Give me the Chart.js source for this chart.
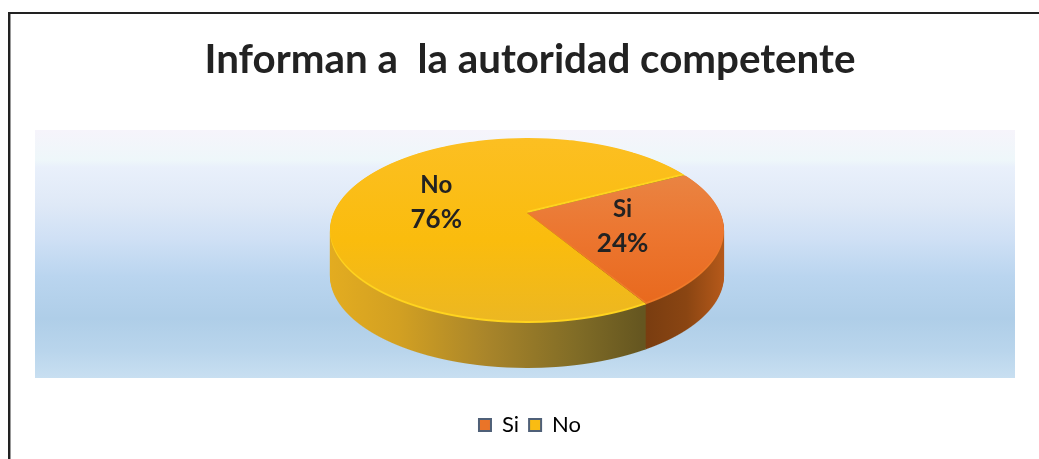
<!DOCTYPE html>
<html><head><meta charset="utf-8">
<style>html,body{margin:0;padding:0;background:#fff}canvas{display:block}</style>
<script src="https://cdn.jsdelivr.net/npm/chart.js@4"></script>
</head><body><canvas id="c" width="1039" height="459"></canvas>
<script>
const categories = ['Si', 'No'];
const seriesValues = [24, 76];
const percentLabels = ['24%', '76%'];
const sliceColors = ['#ea7428', '#fabc12'];
const titleText = 'Informan a  la autoridad competente';

// Oblique projection of the pie (circle plane to screen)
const APEX_X = 527, APEX_Y = 213, TOP = 138, BOTTOM = 323, HALF_W = 197, DEPTH = 45;
const far = APEX_Y - TOP, near = BOTTOM - APEX_Y;
const pc = (far - near) / (far + near);
const pa = far * (1 - pc);
const pk = HALF_W * Math.sqrt(1 - pc * pc);
const W = 1039, H = 459;

function project(u, v) {
  const w = 1 + pc * v;
  return { x: APEX_X + pk * u / w, y: APEX_Y + pa * v / w };
}
function rowPaint(ctx, el, dy) {
  const R = el.outerRadius;
  for (let y = TOP - 1; y <= BOTTOM; y++) {
    const Y = y + 0.5 - APEX_Y;
    const v = Y / (pa - pc * Y);
    if (Math.abs(v) > 1.02) continue;
    const w = 1 + pc * v;
    const sx = pk / (w * R), sy = pa / (w * w * R);
    ctx.save();
    ctx.beginPath();
    ctx.rect(0, y + dy, W, 1);
    ctx.clip();
    ctx.setTransform(sx, 0, 0, sy, APEX_X - el.x * sx, y + 0.5 + dy - (el.y + v * R) * sy);
    el.draw(ctx);
    ctx.restore();
  }
}
function layer() {
  const c = document.createElement('canvas');
  c.width = W; c.height = H;
  return c;
}
function grad(ctx, x0, y0, x1, y1, stops) {
  const g = ctx.createLinearGradient(x0, y0, x1, y1);
  stops.forEach(s => g.addColorStop(s[0], s[1]));
  return g;
}
const sideStops = [
  [[0, '#b5591a'], [0.45, '#8a4512'], [1, '#783c10']],
  [[0, '#e3ac20'], [0.22, '#d2a022'], [0.5, '#a9852a'], [0.8, '#7f6b26'], [1, '#655620']]
];
const sideRange = [[723, 642], [330, 642]];
const faceStops = [
  [[0, '#e98544'], [0.45, '#ec7630'], [1, '#e8681c']],
  [[0, '#fcbf22'], [0.55, '#fabc0d'], [1, '#ecb722']]
];
const faceRange = [[170, 310], [138, 323]];
const rimColors = ['#f07a28', '#ffd41e'];

const pieScene = {
  id: 'pieScene',
  beforeDraw(chart) {
    const ctx = chart.ctx;
    ctx.save();
    ctx.fillStyle = '#fff';
    ctx.fillRect(0, 0, W, H);
    ctx.fillStyle = grad(ctx, 0, 130, 0, 378, [
      [0, '#f6f4fb'], [0.12, '#eef7fa'], [0.15, '#e9f0fb'], [0.3, '#dfe9f7'],
      [0.44, '#cfe0f5'], [0.59, '#bad5ef'], [0.76, '#afcee8'], [0.89, '#b9d5ec'], [1, '#c8dff1']]);
    ctx.fillRect(35, 130, 980, 248);
    ctx.fillStyle = '#222';
    ctx.fillRect(8, 12, W - 8, 2);
    ctx.fillRect(8, 12, 2, H - 12);
    ctx.fillStyle = '#999';
    ctx.fillRect(10, 14, 1, H - 14);
    ctx.restore();
  },
  beforeDatasetsDraw(chart) {
    const ctx = chart.ctx;
    const arcs = chart.getDatasetMeta(0).data;
    // Sides
    arcs.forEach((el, i) => {
      const c = layer(), x = c.getContext('2d');
      for (let d = DEPTH; d >= 1; d -= 1) rowPaint(x, el, d);
      x.globalCompositeOperation = 'source-in';
      x.fillStyle = grad(x, sideRange[i][0], 0, sideRange[i][1], 0, sideStops[i]);
      x.fillRect(0, 0, W, H);
      ctx.drawImage(c, 0, 0);
    });
    // Top faces
    arcs.forEach((el, i) => {
      const c = layer(), x = c.getContext('2d');
      rowPaint(x, el, 0);
      const f = layer(), fx = f.getContext('2d');
      rowPaint(fx, el, -2);
      fx.globalCompositeOperation = 'source-in';
      fx.fillStyle = grad(fx, 0, faceRange[i][0], 0, faceRange[i][1], faceStops[i]);
      fx.fillRect(0, 0, W, H);
      x.globalCompositeOperation = 'source-in';
      x.fillStyle = rimColors[i];
      x.fillRect(0, 0, W, H);
      x.globalCompositeOperation = 'source-atop';
      x.drawImage(f, 0, 0);
      ctx.drawImage(c, 0, 0);
    });
    // Data labels
    ctx.save();
    ctx.fillStyle = '#222';
    ctx.textAlign = 'center';
    ctx.textBaseline = 'middle';
    arcs.forEach((el, i) => {
      const mid = (el.startAngle + el.endAngle) / 2;
      const p = project(Math.cos(mid) * 0.5, Math.sin(mid) * 0.5);
      ctx.font = 'bold 24px Lato';
      ctx.fillText(categories[i], p.x, p.y - 16);
      ctx.font = 'bold 26px Lato';
      ctx.fillText(percentLabels[i], p.x, p.y + 18);
    });
    ctx.restore();
    return false;
  }
};

new Chart(document.getElementById('c'), {
  type: 'pie',
  data: {
    labels: categories,
    datasets: [{ data: seriesValues, backgroundColor: sliceColors, borderWidth: 0 }]
  },
  plugins: [pieScene],
  options: {
    responsive: false,
    animation: false,
    rotation: 62.5,
    layout: { padding: { left: 21, bottom: 13 } },
    plugins: {
      tooltip: { enabled: false },
      title: {
        display: true,
        text: titleText,
        color: '#222',
        font: { family: 'Lato', weight: 'bold', size: 40.3 },
        padding: { top: 36, bottom: 40 }
      },
      legend: {
        position: 'bottom',
        labels: {
          color: '#333',
          font: { family: 'Lato', size: 22 },
          boxWidth: 12,
          boxHeight: 12,
          padding: 10,
          generateLabels(chart) {
            return categories.map((t, i) => ({
              text: t, index: i, fillStyle: sliceColors[i], strokeStyle: '#4f6078', lineWidth: 2, hidden: false
            }));
          }
        }
      }
    }
  }
});
</script></body></html>
